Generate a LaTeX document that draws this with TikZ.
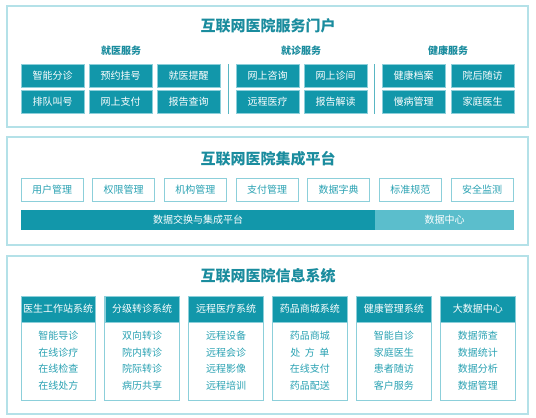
\documentclass[tikz,border=0pt]{standalone}
\usepackage{fontspec}
\setmainfont{Noto Sans CJK SC}
\definecolor{teal1}{HTML}{1297AA}
\definecolor{titlec}{HTML}{1A8C9E}
\definecolor{itemc}{HTML}{2AA2B3}
\definecolor{lightbar}{HTML}{5BBECC}
\definecolor{panelb}{HTML}{B4E1E8}
\definecolor{boxb}{HTML}{8CCFDA}
\begin{document}
\begin{tikzpicture}[x=1pt,y=-1pt,
  panel/.style={draw=panelb,line width=1.3pt,fill=white},
  ttl/.style={font=\fontsize{15}{15}\selectfont\bfseries,text=titlec},
  sub/.style={font=\fontsize{10}{10}\selectfont\bfseries,text=titlec},
  tbox/.style={draw=boxb,line width=0.6pt,fill=teal1,text=white,minimum width=63pt,minimum height=23pt,inner sep=0pt,font=\fontsize{10}{10}\selectfont},
  obox/.style={draw=boxb,line width=1pt,fill=white,text=itemc,minimum width=62pt,minimum height=23pt,inner sep=0pt,font=\fontsize{10}{10}\selectfont},
  bar/.style={inner sep=0pt,minimum height=20pt,text=white,font=\fontsize{10}{10}\selectfont},
  hdr/.style={draw=boxb,line width=0.8pt,fill=teal1,text=white,minimum width=74.5pt,minimum height=26pt,inner sep=0pt,font=\fontsize{10}{10}\selectfont},
  body/.style={draw=boxb,line width=1pt,fill=white,minimum width=74.5pt,minimum height=104pt,inner sep=0pt},
  item/.style={text=itemc,inner sep=0pt,font=\fontsize{10}{10}\selectfont},
  sep/.style={draw=teal1!70,line width=0.9pt}
]
\useasboundingbox (0,0) rectangle (536,418);
\fill[white] (0,0) rectangle (536,418);
% ---------- Panel 1
\node[panel,minimum width=521pt,minimum height=121pt,inner sep=0pt] (p1) at (267.5,66.5) {};
\node[ttl] (t1) at (268,26) {互联网医院服务门户};
\node[sub] (s1) at (121,51) {就医服务};
\node[sub] (s2) at (301,51) {就诊服务};
\node[sub] (s3) at (448,51) {健康服务};
\node[tbox] (a1) at (52.5,75.5) {智能分诊};
\node[tbox] (a2) at (120.5,75.5) {预约挂号};
\node[tbox] (a3) at (188.5,75.5) {就医提醒};
\node[tbox] (a4) at (267.5,75.5) {网上咨询};
\node[tbox] (a5) at (335.5,75.5) {网上诊间};
\node[tbox] (a6) at (413.5,75.5) {健康档案};
\node[tbox] (a7) at (482.5,75.5) {院后随访};
\node[tbox] (b1) at (52.5,102) {排队叫号};
\node[tbox] (b2) at (120.5,102) {网上支付};
\node[tbox] (b3) at (188.5,102) {报告查询};
\node[tbox] (b4) at (267.5,102) {远程医疗};
\node[tbox] (b5) at (335.5,102) {报告解读};
\node[tbox] (b6) at (413.5,102) {慢病管理};
\node[tbox] (b7) at (482.5,102) {家庭医生};
\coordinate (sa1) at (228.5,64); \coordinate (sa2) at (228.5,113.5);
\coordinate (sb1) at (374.5,64); \coordinate (sb2) at (374.5,113.5);
\draw[sep] (sa1) -- (sa2);
\draw[sep] (sb1) -- (sb2);
% ---------- Panel 2
\node[panel,minimum width=521pt,minimum height=108pt,inner sep=0pt] (p2) at (267.5,191) {};
\node[ttl] (t2) at (268,159) {互联网医院集成平台};
\node[obox] (c1) at (52,189.5) {用户管理};
\node[obox] (c2) at (123.7,189.5) {权限管理};
\node[obox] (c3) at (195.3,189.5) {机构管理};
\node[obox] (c4) at (267,189.5) {支付管理};
\node[obox] (c5) at (338.7,189.5) {数据字典};
\node[obox] (c6) at (410.3,189.5) {标准规范};
\node[obox] (c7) at (482,189.5) {安全监测};
\node[bar,fill=teal1,minimum width=354pt] (d1) at (198,220) {数据交换与集成平台};
\node[bar,fill=lightbar,minimum width=139pt] (d2) at (444.5,220) {数据中心};
% ---------- Panel 3
\node[panel,minimum width=521pt,minimum height=158pt,inner sep=0pt] (p3) at (267.5,335) {};
\node[ttl] (t3) at (268,276) {互联网医院信息系统};
\foreach \i/\x/\h/\ia/\ib/\ic/\id in {
  1/58.25/医生工作站系统/智能导诊/在线诊疗/在线检查/在线处方,
  2/142.15/分级转诊系统/双向转诊/院内转诊/院际转诊/病历共享,
  3/226.05/远程医疗系统/远程设备/远程会诊/远程影像/远程培训,
  4/309.95/药品商城系统/药品商城/处\ \ 方\ \ 单/在线支付/药品配送,
  5/393.85/健康管理系统/智能自诊/家庭医生/患者随访/客户服务,
  6/477.75/大数据中心/数据筛查/数据统计/数据分析/数据管理}{
  \node[body] (g\i) at (\x,348) {};
  \node[hdr] (h\i) at (\x,309) {\h};
  \node[item] (i\i a) at (\x,336) {\ia};
  \node[item] (i\i b) at (\x,352.5) {\ib};
  \node[item] (i\i c) at (\x,369) {\ic};
  \node[item] (i\i d) at (\x,385.5) {\id};
}
\end{tikzpicture}
\end{document}
